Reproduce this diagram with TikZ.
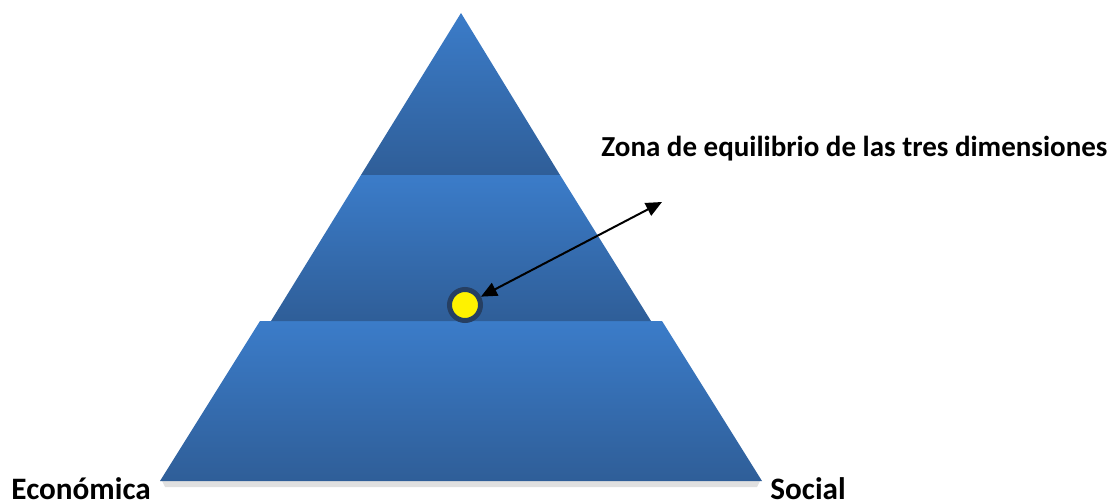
\documentclass[tikz,border=0pt]{standalone}
\usepackage{fontspec}
\setmainfont{Carlito}
\usetikzlibrary{arrows.meta}
\definecolor{tierlight}{HTML}{3B7CC9}
\definecolor{tierdark}{HTML}{2F5E98}
\definecolor{ringblue}{HTML}{263F62}

\begin{document}
\begin{tikzpicture}[x=0.5pt,y=-0.5pt]
    \tikzstyle{every node}+=[inner sep=0pt]
    \tikzstyle{tier}=[top color=tierlight, bottom color=tierdark]
    \tikzstyle{dimtext}=[font=\fontsize{14.5}{17}\selectfont\bfseries, anchor=base west]
    \tikzstyle{cornertext}=[dimtext, font=\fontsize{15.6}{18}\selectfont\bfseries]
    \useasboundingbox (0,0) rectangle (1117,502);
    % soft shadow under the base
    \fill [black, opacity=0.12] (162,481) -- (760,481) -- (757,487) -- (165,487) -- cycle;
    % the three tiers
    \shade [tier] (160,481) -- (260,321) -- (662,321) -- (762,481) -- cycle;
    \shade [tier] (271,321) -- (361,175) -- (560,175) -- (651,321) -- cycle;
    \shade [tier] (361,175) -- (461,13) -- (560,175) -- cycle;
    % balance point
    \node [circle, fill=yellow, draw=ringblue, line width=2.5pt, minimum size=15.5pt] (dot) at (465,305) {};
    \coordinate (tip) at (662,202);
    \draw [black, line width=1pt, {Triangle[length=8pt,width=7pt]}-{Triangle[length=8pt,width=7pt]}] (tip) -- (dot);
    \draw (601,157) node [dimtext] (zona) {Zona de equilibrio de las tres dimensiones};
    \draw (11,499) node [cornertext] (eco) {Económica};
    \draw (770,499) node [cornertext] (soc) {Social};
\end{tikzpicture}
\end{document}
